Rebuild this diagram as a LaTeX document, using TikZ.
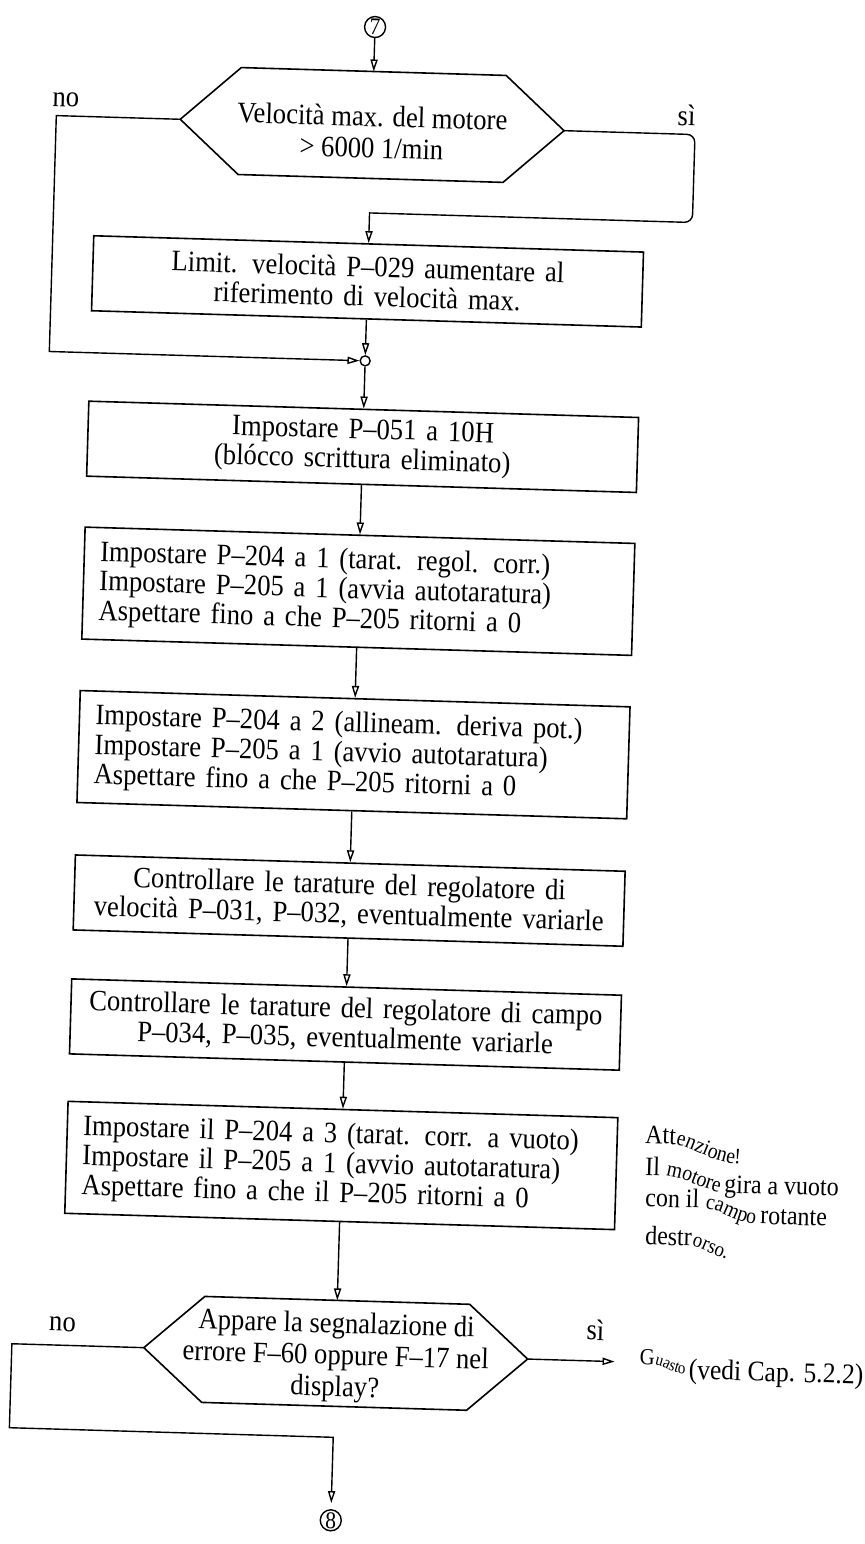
\documentclass[tikz,border=0pt]{standalone}
\usepackage{fontspec}
\setmainfont{Liberation Serif}[FakeStretch=0.9]
\usetikzlibrary{arrows.meta,decorations.text}
% font sizes for the side notes
\newcommand\notebig{\fontsize{13.3}{15}\selectfont}
\newcommand\notesmall{\fontsize{11}{13}\selectfont}
\newcommand\notetiny{\fontsize{10.5}{12}\selectfont}
\newcommand\guasbig{\fontsize{11.5}{13}\selectfont}
\newcommand\guassmall{\fontsize{8.5}{10}\selectfont}
\tikzset{
  box/.style={draw, line width=0.8pt, text width=259pt, inner xsep=8pt, inner ysep=0pt,
              font=\fontsize{14.8}{14.8}\selectfont},
  tall/.style={box, minimum height=56pt, align=left},
  flat/.style={box, minimum height=37.5pt, align=center},
  dtext/.style={align=center, inner sep=0pt, font=\fontsize{14.8}{15.8}\selectfont},
  outline/.style={draw, line width=0.8pt, line join=miter},
  arr/.style={draw, line width=0.7pt, -{Triangle[open, length=6pt, width=3.6pt]}},
  conn/.style={circle, draw, line width=0.7pt, minimum size=10.5pt, inner sep=0pt,
               font=\fontsize{12}{12}\selectfont},
  junction/.style={circle, draw, line width=0.7pt, minimum size=5pt, inner sep=0pt},
  lbl/.style={inner sep=0pt, font=\fontsize{14.8}{15}\selectfont},
}
\begin{document}
\begin{tikzpicture}[x=0.5pt, y=-0.5pt]
\useasboundingbox (0,0) rectangle (864,1544);
\begin{scope}[rotate around={-1.7:(432,772)}, transform shape]

% entry connector
\node[conn] (c7) at (353,29) {7};

% first decision
\coordinate (h1t)  at (353,73.5);
\coordinate (h1tl) at (220.5,73.5);
\coordinate (h1tr) at (485.5,73.5);
\coordinate (h1r)  at (545,127);
\coordinate (h1br) at (485.5,180.5);
\coordinate (h1bl) at (220.5,180.5);
\coordinate (h1l)  at (161,127);
\draw[outline] (h1tl) -- (h1tr) -- (h1r) -- (h1br) -- (h1bl) -- (h1l) -- cycle;
\node[dtext] (h1) at (353,134) {Velocità max. del motore\\> 6000 1/min};
\node[lbl] (no1) at (46,111) {no};
\node[lbl] (si1) at (667,108) {sì};

% process steps
\node[flat] (b1) at (353,283.5) {Limit. velocità P–029 aumentare al\\riferimento di velocità max.};
\node[junction] (j) at (353,363) {};
\node[flat] (b2) at (353,449) {Impostare P–051 a 10H\\(blócco scrittura eliminato)};
\node[tall] (b3) at (353,593.5) {Impostare P–204 a 1 (tarat. regol. corr.)\\
  Impostare P–205 a 1 (avvia autotaratura)\\Aspettare fino a che P–205 ritorni a 0};
\node[tall] (b4) at (353,757) {Impostare P–204 a 2 (allineam. deriva pot.)\\
  Impostare P–205 a 1 (avvio autotaratura)\\Aspettare fino a che P–205 ritorni a 0};
\node[flat] (b5) at (353,903) {Controllare le tarature del regolatore di\\
  velocità P–031, P–032, eventualmente variarle};
\node[flat] (b6) at (353,1027) {Controllare le tarature del regolatore di campo\\
  P–034, P–035, eventualmente variarle};
\node[tall] (b7) at (353,1168) {Impostare il P–204 a 3 (tarat. corr. a vuoto)\\
  Impostare il P–205 a 1 (avvio autotaratura)\\Aspettare fino a che il P–205 ritorni a 0};

% second decision
\coordinate (h2t)  at (353,1303);
\coordinate (h2tl) at (220.5,1303);
\coordinate (h2tr) at (485.5,1303);
\coordinate (h2r)  at (545,1356);
\coordinate (h2br) at (485.5,1409);
\coordinate (h2bl) at (220.5,1409);
\coordinate (h2l)  at (161,1356);
\draw[outline] (h2tl) -- (h2tr) -- (h2r) -- (h2br) -- (h2bl) -- (h2l) -- cycle;
\node[dtext] (h2) at (353,1360) {Appare la segnalazione di\\errore F–60 oppure F–17 nel\\display?};
\node[lbl] (no2) at (79,1335) {no};
\node[lbl] (si2) at (612,1325) {sì};

% exit connector
\node[conn] (c8) at (353,1523) {8};

% routing points
\coordinate (nL1) at (37,127);
\coordinate (nL2) at (37,363);
\coordinate (sR1) at (676,127);
\coordinate (sR2) at (676,215);
\coordinate (sR3) at (353,215);
\coordinate (gEnd) at (632,1356);
\coordinate (nB1) at (29,1356);
\coordinate (nB2) at (29,1440);
\coordinate (nB3) at (353,1440);

% flow lines
\draw[arr] (c7) -- (h1t);
\draw[arr] (h1l) -- (nL1) -- (nL2) -- (j);
\draw[arr, rounded corners=4pt] (h1r) -- (sR1) -- (sR2) [sharp corners] -- (sR3) -- (b1);
\draw[arr] (b1) -- (j);
\draw[arr] (j) -- (b2);
\draw[arr] (b2) -- (b3);
\draw[arr] (b3) -- (b4);
\draw[arr] (b4) -- (b5);
\draw[arr] (b5) -- (b6);
\draw[arr] (b6) -- (b7);
\draw[arr] (b7) -- (h2t);
\draw[arr] (h2r) -- (gEnd);
\draw[arr, shorten >=3pt] (h2l) -- (nB1) -- (nB2) -- (nB3) -- (c8);

% warning note beside the last step
\path[decorate, decoration={text along path, text align=left,
    text={|\notebig|Att|\notesmall|enzione!}}]
  (656,1137) -- (683,1137) .. controls (700,1137) and (714,1150) .. (742,1154) -- (800,1156);
\path[decorate, decoration={text along path, text align=left,
    text={|\notebig|Il |\notesmall|motore |\notebig|gira a vuoto}}]
  (657,1169) -- (678,1169) .. controls (695,1169) and (714,1182) .. (737,1184) -- (880,1184);
\path[decorate, decoration={text along path, text align=left,
    text={|\notebig|con il |\notesmall|campo |\notebig|rotante}}]
  (658,1200) -- (714,1200) .. controls (735,1200) and (746,1213) .. (770,1214) -- (880,1214);
\path[decorate, decoration={text along path, text align=left,
    text={|\notebig|destr|\notetiny|orso.}}]
  (659,1238) -- (702,1238) .. controls (712,1238) and (720,1244) .. (740,1250) -- (760,1254);

% fault reference
\path[decorate, decoration={text along path, text align=left,
    text={|\guasbig|G|\guassmall|uasto}}]
  (657,1358) -- (672,1358) .. controls (679,1358) and (686,1364) .. (698,1366) -- (740,1367);
\node[lbl, anchor=base west, font=\fontsize{14.2}{15}\selectfont] (gs) at (706,1371) {(vedi Cap. 5.2.2)};

\end{scope}
\end{tikzpicture}
\end{document}
